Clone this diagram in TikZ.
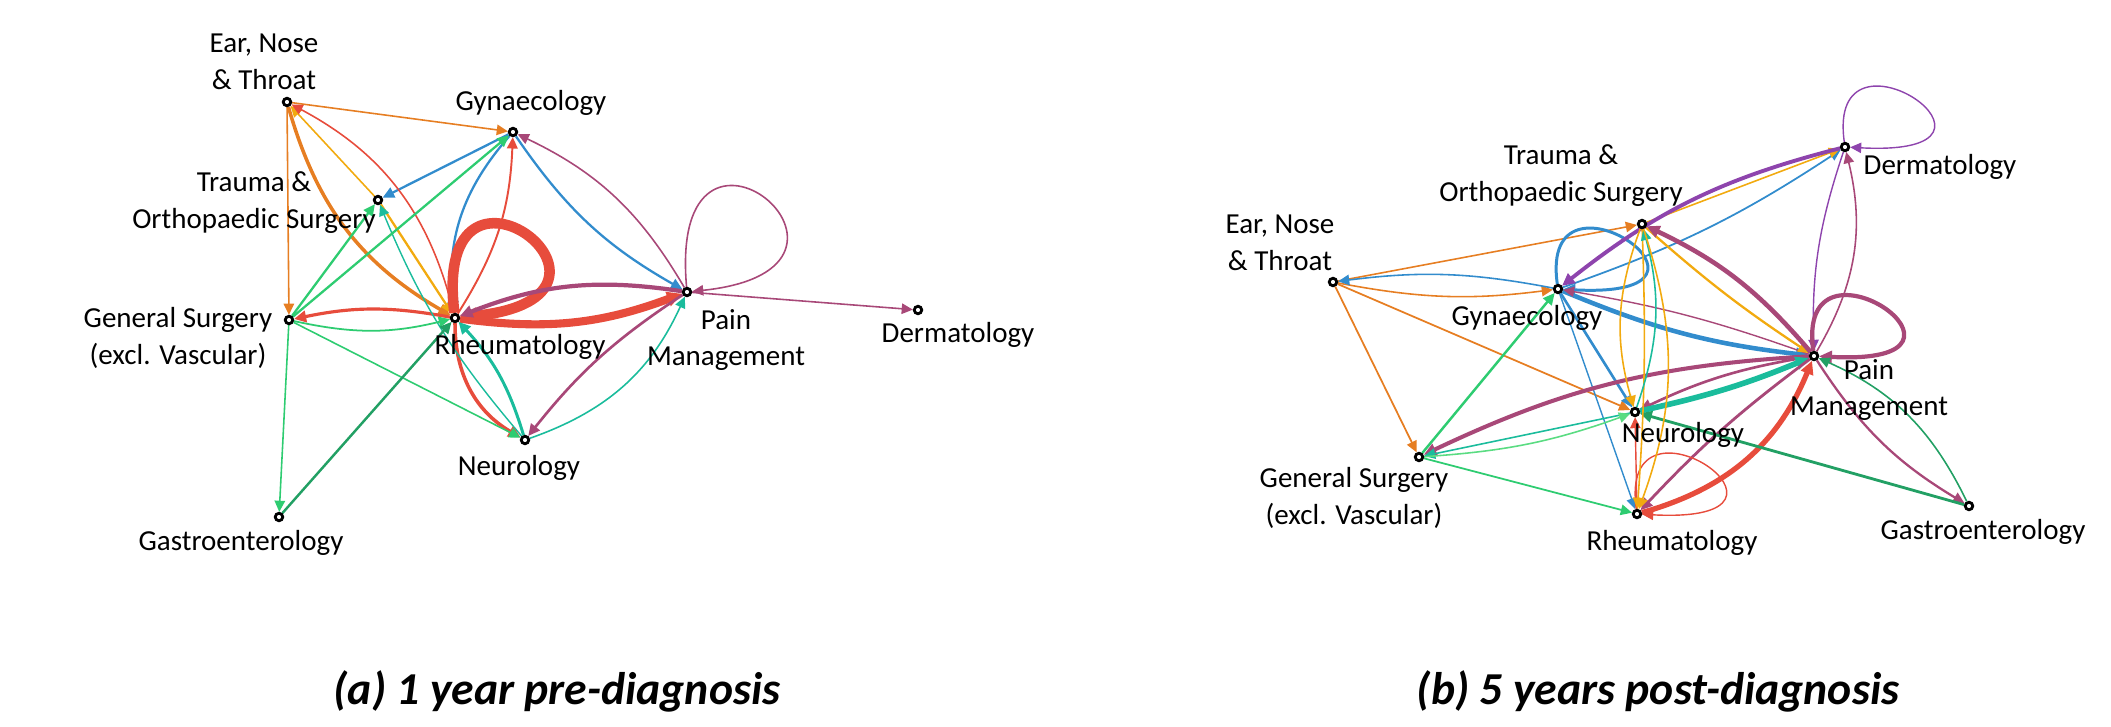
\documentclass[tikz,border=0pt]{standalone}
\usepackage{fontspec}
\setmainfont{Carlito}
\usetikzlibrary{arrows.meta}
\pgfdeclarelayer{edges}
\pgfsetlayers{edges,main}
\newcommand\lblfont{\fontsize{8.25}{10.5}\selectfont}
\newcommand\capfont{\fontsize{13}{15}\selectfont\bfseries\itshape}
\definecolor{cOr}{RGB}{230,126,34}
\definecolor{cRd}{RGB}{231,76,60}
\definecolor{cBl}{RGB}{50,140,205}
\definecolor{cGn}{RGB}{46,204,113}
\definecolor{cTl}{RGB}{26,188,156}
\definecolor{cDg}{RGB}{34,160,100}
\definecolor{cYl}{RGB}{242,170,15}
\definecolor{cMr}{RGB}{168,72,120}
\definecolor{cPu}{RGB}{142,68,173}
\definecolor{cLg}{RGB}{90,220,130}
\tikzset{
  nd/.style={circle,draw=black,fill=white,line width=0.8pt,inner sep=0pt,minimum size=0.075cm},
  lb/.style={font=\lblfont,align=center,inner sep=0pt},
  ed/.style={-{Triangle[length=2.9pt 0.6,width=2.7pt 0.6]}},
}
\begin{document}
\begin{tikzpicture}[x=0.01cm,y=0.01cm]
\useasboundingbox (0,0) rectangle (2111,-727);
% ---------- left graph nodes
\node[nd] (E1) at (287,-102) {};
\node[nd] (G1) at (513,-132) {};
\node[nd] (T1) at (378,-200) {};
\node[nd] (S1) at (289,-320) {};
\node[nd] (R1) at (455,-318) {};
\node[nd] (P1) at (687,-292) {};
\node[nd] (N1) at (525,-440) {};
\node[nd] (A1) at (279,-517) {};
\node[nd] (D1) at (918,-310) {};
% ---------- right graph nodes
\node[nd] (E2) at (1333,-282) {};
\node[nd] (T2) at (1642,-224) {};
\node[nd] (G2) at (1558,-289) {};
\node[nd] (D2) at (1845,-147) {};
\node[nd] (P2) at (1814,-356) {};
\node[nd] (N2) at (1635,-412) {};
\node[nd] (S2) at (1419,-457) {};
\node[nd] (R2) at (1637,-514) {};
\node[nd] (A2) at (1969,-506) {};
\begin{pgfonlayer}{edges}
% ---------- left edges
\draw[ed,cOr,line width=0.45pt] (E1) -- (G1);
\draw[ed,cOr,line width=0.45pt] (E1) -- (S1);
\draw[ed,cOr,line width=1pt] (E1) to[bend right=22] (R1);
\draw[ed,cYl,line width=0.45pt] (T1) -- (E1);
\draw[ed,cYl,line width=0.65pt] (T1) -- (R1);
\draw[ed,cBl,line width=0.65pt] (G1) -- (T1);
\draw[ed,cBl,line width=0.65pt] (G1) to[bend right=24] (R1);
\draw[ed,cBl,line width=0.65pt] (G1) to[bend right=13] (P1);
\draw[ed,cMr,line width=0.45pt] (P1) to[bend right=17] (G1);
\draw[ed,cRd,line width=0.45pt] (R1) to[bend right=24] (E1);
\draw[ed,cRd,line width=0.55pt] (R1) to[bend right=15] (G1);
\draw[ed,cRd,line width=0.9pt] (R1) to[bend right=11] (S1);
\draw[ed,cRd,line width=3pt] (R1) .. controls +(97:200) and +(6:210) .. (R1);
\draw[ed,cRd,line width=2.3pt] (R1) to[bend right=14] (P1);
\draw[ed,cRd,line width=1pt] (R1) to[bend right=30] (N1);
\draw[ed,cTl,line width=0.85pt] (N1) to[bend right=13] (R1);
\draw[ed,cTl,line width=0.4pt] (N1) to[bend left=9] (T1);
\draw[ed,cTl,line width=0.45pt] (N1) to[bend right=23] (P1);
\draw[ed,cGn,line width=0.65pt] (S1) -- (T1);
\draw[ed,cGn,line width=0.65pt] (S1) -- (G1);
\draw[ed,cGn,line width=0.5pt] (S1) to[bend right=13] (R1);
\draw[ed,cGn,line width=0.45pt] (S1) -- (N1);
\draw[ed,cGn,line width=0.45pt] (S1) -- (A1);
\draw[ed,cDg,line width=0.7pt] (A1) -- (R1);
\draw[ed,cMr,line width=0.75pt] (P1) to[bend right=9] (N1);
\draw[ed,cMr,line width=1.2pt] (P1) to[bend right=15] (R1);
\draw[ed,cMr,line width=0.45pt] (P1) .. controls +(95:225) and +(6:225) .. (P1);
\draw[ed,cMr,line width=0.45pt] (P1) -- (D1);
% ---------- right edges
\draw[ed,cOr,line width=0.45pt] (E2) -- (T2);
\draw[ed,cOr,line width=0.45pt] (E2) to[bend right=9] (G2);
\draw[ed,cBl,line width=0.45pt] (G2) to[bend right=9] (E2);
\draw[ed,cOr,line width=0.5pt] (E2) -- (N2);
\draw[ed,cOr,line width=0.5pt] (E2) -- (S2);
\draw[ed,cBl,line width=0.85pt] (G2) .. controls +(98:140) and +(-3:200) .. (G2);
\draw[ed,cBl,line width=0.5pt] (G2) to[bend right=7] (D2);
\draw[ed,cBl,line width=1.3pt] (G2) to[bend right=8] (P2);
\draw[ed,cBl,line width=0.75pt] (G2) -- (N2);
\draw[ed,cBl,line width=0.4pt] (G2) -- (R2);
\draw[ed,cMr,line width=0.4pt] (P2) to[bend right=5] (G2);
\draw[ed,cYl,line width=0.45pt] (T2) -- (D2);
\draw[ed,cYl,line width=0.65pt] (T2) to[bend right=4] (P2);
\draw[ed,cMr,line width=1.3pt] (P2) to[bend right=12] (T2);
\draw[ed,cPu,line width=1.1pt] (D2) to[bend right=12] (G2);
\draw[ed,cPu,line width=0.4pt] (D2) .. controls +(98:140) and +(-3:200) .. (D2);
\draw[ed,cPu,line width=0.4pt] (D2) to[bend right=10] (P2);
\draw[ed,cMr,line width=0.45pt] (P2) to[bend right=22] (D2);
\draw[ed,cMr,line width=1.2pt] (P2) .. controls +(98:140) and +(-3:200) .. (P2);
\draw[ed,cMr,line width=1.15pt] (P2) to[bend right=11] (S2);
\draw[ed,cMr,line width=0.75pt] (P2) to[bend right=8] (N2);
\draw[ed,cTl,line width=1.6pt] (N2) to[bend right=5] (P2);
\draw[ed,cMr,line width=0.8pt] (P2) to[bend right=5] (R2);
\draw[ed,cRd,line width=1.5pt] (R2) to[bend right=26] (P2);
\draw[ed,cRd,line width=0.4pt] (R2) .. controls +(98:140) and +(-3:200) .. (R2);
\draw[ed,cRd,line width=0.4pt] (R2) -- (N2);
\draw[ed,cMr,line width=0.65pt] (P2) to[bend right=13] (A2);
\draw[ed,cDg,line width=0.45pt] (A2) to[bend right=20] (P2);
\draw[ed,cDg,line width=0.8pt] (A2) -- (N2);
\draw[ed,cTl,line width=0.45pt] (N2) -- (S2);
\draw[ed,cLg,line width=0.45pt] (S2) to[bend right=8] (N2);
\draw[ed,cGn,line width=0.7pt] (S2) -- (G2);
\draw[ed,cGn,line width=0.5pt] (S2) -- (R2);
\draw[ed,cYl,line width=0.45pt] (T2) to[bend right=18] (N2);
\draw[ed,cYl,line width=0.45pt] (T2) to[bend left=3] (R2);
\draw[ed,cTl,line width=0.45pt] (N2) to[bend right=17] (T2);
\draw[ed,cYl,line width=0.45pt] (T2) to[bend left=19] (R2);
\end{pgfonlayer}
% ---------- labels left
\node[lb] (lE1) at (264,-62) {Ear, Nose\\\& Throat};
\node[lb] (lG1) at (531,-103) {Gynaecology};
\node[lb] (lT1) at (254,-203) {Trauma \&\\Orthopaedic Surgery};
\node[lb] (lS1) at (178,-338) {General Surgery\\(excl. Vascular)};
\node[lb] (lR1) at (520,-347) {Rheumatology};
\node[lb] (lP1) at (726,-340) {Pain\\Management};
\node[lb] (lN1) at (519,-468) {Neurology};
\node[lb] (lA1) at (241,-543) {Gastroenterology};
\node[lb] (lD1) at (958,-335) {Dermatology};
% ---------- labels right
\node[lb] (lE2) at (1280,-243) {Ear, Nose\\\& Throat};
\node[lb] (lT2) at (1561,-176) {Trauma \&\\Orthopaedic Surgery};
\node[lb] (lG2) at (1527,-318) {Gynaecology};
\node[lb] (lD2) at (1940,-167) {Dermatology};
\node[lb] (lP2) at (1869,-390) {Pain\\Management};
\node[lb] (lN2) at (1683,-435) {Neurology};
\node[lb] (lS2) at (1354,-498) {General Surgery\\(excl. Vascular)};
\node[lb] (lR2) at (1672,-543) {Rheumatology};
\node[lb] (lA2) at (1983,-532) {Gastroenterology};
% ---------- captions
\node[font=\capfont,inner sep=0pt] (capa) at (557,-691) {(a) 1 year pre-diagnosis};
\node[font=\capfont,inner sep=0pt] (capb) at (1658,-691) {(b) 5 years post-diagnosis};
\end{tikzpicture}
\end{document}
